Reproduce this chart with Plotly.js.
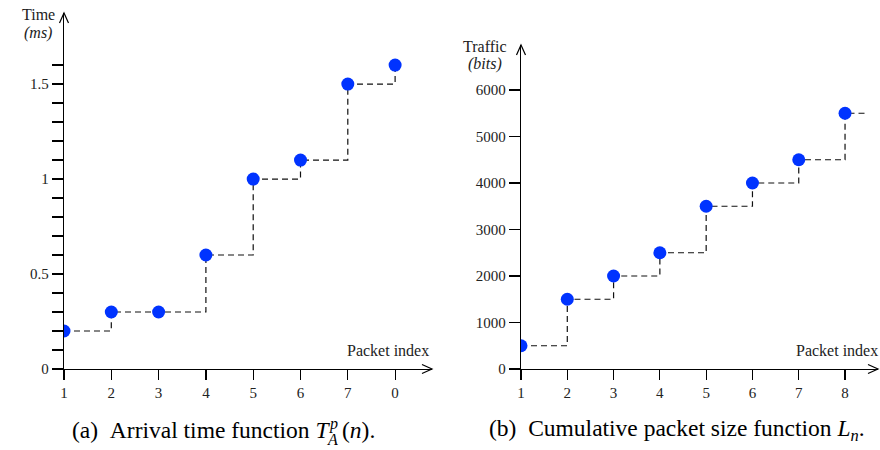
<!DOCTYPE html>
<html>
<head>
<meta charset="utf-8">
<script src="https://cdn.plot.ly/plotly-3.0.1.min.js"></script>
<style>html,body{margin:0;padding:0;background:#fff;}#chart{width:880px;height:450px;}</style>
</head>
<body>
<div id="chart"></div>
<script>
// ---- Data: (a) arrival time ----
const packetIdxA = [1, 2, 3, 4, 5, 6, 7, 8];
const arrivalTime = [0.2, 0.3, 0.3, 0.6, 1.0, 1.1, 1.5, 1.6];
const tickValsXA = [1, 2, 3, 4, 5, 6, 7, 8];
const tickTextXA = ['1', '2', '3', '4', '5', '6', '7', '0'];
const tickValsYA = [0, 0.1, 0.2, 0.3, 0.4, 0.5, 0.6, 0.7, 0.8, 0.9, 1.0, 1.1, 1.2, 1.3, 1.4, 1.5, 1.6];
const tickTextYA = ['0', ' ', ' ', ' ', ' ', '0.5', ' ', ' ', ' ', ' ', '1', ' ', ' ', ' ', ' ', '1.5', ' '];

// ---- Data: (b) cumulative packet size ----
const packetIdxB = [1, 2, 3, 4, 5, 6, 7, 8];
const trafficBits = [500, 1500, 2000, 2500, 3500, 4000, 4500, 5500];
const stepEndB = 8.5; // last horizontal step extends to here
const tickValsXB = [1, 2, 3, 4, 5, 6, 7, 8];
const tickTextXB = ['1', '2', '3', '4', '5', '6', '7', '8'];
const tickValsYB = [0, 1000, 2000, 3000, 4000, 5000, 6000];
const tickTextYB = ['0', '1000', '2000', '3000', '4000', '5000', '6000'];

const W = 880, H = 450;
const px = x => x / W;
const py = y => 1 - y / H;

const serif = '"Liberation Serif", "DejaVu Serif", serif';
const tickFont = {family: serif, size: 15, color: '#222'};
const blue = '#0033ff';
const stepLine = {color: '#111', width: 1.2, dash: '6px,4px', shape: 'hv'};

const traces = [
  {x: packetIdxA, y: arrivalTime, xaxis: 'x', yaxis: 'y', mode: 'lines',
   line: stepLine, hoverinfo: 'skip', showlegend: false},
  {x: packetIdxA, y: arrivalTime, xaxis: 'x', yaxis: 'y', mode: 'markers',
   marker: {color: blue, size: 13}, showlegend: false},
  {x: packetIdxB.concat([stepEndB]), y: trafficBits.concat([trafficBits[trafficBits.length - 1]]),
   xaxis: 'x2', yaxis: 'y2', mode: 'lines', line: stepLine, hoverinfo: 'skip', showlegend: false},
  {x: packetIdxB, y: trafficBits, xaxis: 'x2', yaxis: 'y2', mode: 'markers',
   marker: {color: blue, size: 13}, showlegend: false}
];

function xAx(domain, range, vals, text, anchor) {
  return {domain: domain, range: range, anchor: anchor, showline: true, linecolor: '#000', linewidth: 1.2,
    ticks: 'outside', ticklen: 10, tickwidth: 1.2, tickcolor: '#000', tickvals: vals, ticktext: text,
    showgrid: false, zeroline: false, tickfont: tickFont, fixedrange: true};
}
function yAx(domain, range, vals, text, anchor) {
  return {domain: domain, range: range, anchor: anchor, showline: true, linecolor: '#000', linewidth: 1.2,
    ticks: 'outside', ticklen: 11, tickwidth: 1.2, tickcolor: '#000', tickvals: vals, ticktext: text,
    showgrid: false, zeroline: false, tickfont: tickFont, fixedrange: true};
}

function chevronRight(x, y) {
  return {type: 'path', xref: 'paper', yref: 'paper',
    path: `M ${px(x - 10)},${py(y - 4.5)} L ${px(x)},${py(y)} L ${px(x - 10)},${py(y + 4.5)}`,
    line: {color: '#000', width: 1.2}};
}
function chevronUp(x, y) {
  return {type: 'path', xref: 'paper', yref: 'paper',
    path: `M ${px(x - 4.5)},${py(y + 10)} L ${px(x)},${py(y)} L ${px(x + 4.5)},${py(y + 10)}`,
    line: {color: '#000', width: 1.2}};
}

function label(text, x, y, size, xanchor, color) {
  return {text: text, xref: 'paper', yref: 'paper', x: px(x), y: py(y),
    xanchor: xanchor || 'center', yanchor: 'middle', showarrow: false,
    font: {family: serif, size: size, color: color || '#222'}};
}

const capSize = 23.5;

const layout = {
  width: W, height: H,
  margin: {l: 0, r: 0, t: 0, b: 0},
  paper_bgcolor: '#fff', plot_bgcolor: 'rgba(0,0,0,0)',
  font: {family: serif},
  showlegend: false,
  xaxis: xAx([px(64), px(432)], [1, 8.78], tickValsXA, tickTextXA, 'y'),
  yaxis: yAx([1 - 369 / H, 1 - 13 / H], [0, 1.874], tickValsYA, tickTextYA, 'x'),
  xaxis2: xAx([px(521), px(878)], [1, 8.712], tickValsXB, tickTextXB, 'y2'),
  yaxis2: yAx([1 - 369 / H, 1 - 45 / H], [0, 6968], tickValsYB, tickTextYB, 'x2'),
  shapes: [chevronRight(432, 369), chevronUp(64, 13), chevronRight(878, 369), chevronUp(521, 45)],
  annotations: [
    label('Time', 38, 15, 16),
    label('<i>(ms)</i>', 38, 33, 16),
    label('Packet index', 431, 350, 16, 'right'),
    label('Traffic', 485, 46, 16),
    label('<i>(bits)</i>', 485, 64, 16),
    label('Packet index', 880, 350, 16, 'right'),
    // caption (a), composed so the super/subscripts stack
    label('(a)\u2002Arrival time function <i>T</i>', 332, 430, capSize, 'right', '#000'),
    label('<i>p</i>', 327, 424, 16, 'left', '#000'),
    label('<i>A</i>', 325, 439, 16, 'left', '#000'),
    label('(<i>n</i>).', 340, 430, capSize, 'left', '#000'),
    // caption (b)
    label('(b)\u2002Cumulative packet size function <i>L</i><sub><i>n</i></sub>.', 677, 430, capSize, 'center', '#000')
  ]
};

Plotly.newPlot('chart', traces, layout, {displayModeBar: false, staticPlot: true});
</script>
</body>
</html>
